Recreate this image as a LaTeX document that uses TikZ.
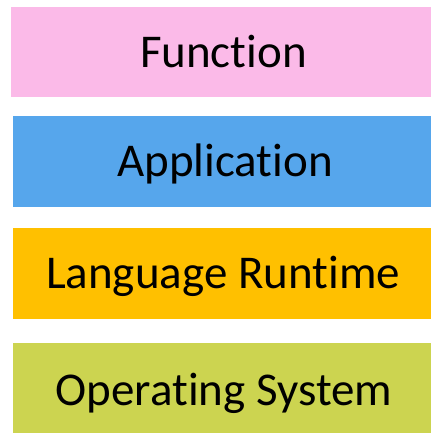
\documentclass[tikz,border=0pt]{standalone}
\usepackage{fontspec}
\setmainfont{Carlito}[Ligatures={CommonOff,ContextualOff}]
\definecolor{cpink}{RGB}{251,186,232}
\definecolor{cblue}{RGB}{86,166,236}
\definecolor{corange}{RGB}{255,192,0}
\definecolor{cgreen}{RGB}{204,212,80}
\begin{document}
\begin{tikzpicture}[x=1pt,y=-1pt,
  layer/.style={inner sep=0pt,outer sep=0pt,anchor=north west},
  lbl/.style={inner sep=0pt,outer sep=0pt,anchor=center,text=black,
    text height=30.3pt,text depth=0pt,
    font=\fontsize{47}{50}\selectfont}]
\useasboundingbox (0,0) rectangle (431,433);
\node[layer,fill=cpink,minimum width=420pt,minimum height=90pt] (func) at (11,7) {};
\node[layer,fill=cblue,minimum width=418pt,minimum height=91pt] (app) at (13,116) {};
\node[layer,fill=corange,minimum width=418pt,minimum height=91pt] (lang) at (13,228) {};
\node[layer,fill=cgreen,minimum width=418pt,minimum height=90pt] (os) at (13,343) {};
\node[lbl] (funct) at ([xshift=2.5pt]func.center) {Function};
\node[lbl] (appt) at ([xshift=3pt]app.center) {Application};
\node[lbl] (langt) at ([xshift=1pt]lang.center) {Language Runtime};
\node[lbl] (ost) at ([xshift=2pt,yshift=-2pt]os.center) {Operating System};
\end{tikzpicture}
\end{document}
